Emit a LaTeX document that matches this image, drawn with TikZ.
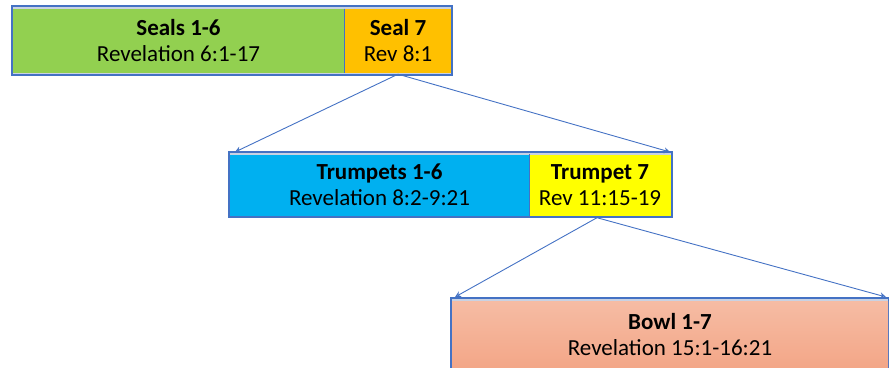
\documentclass[tikz,border=0pt]{standalone}
\usepackage{fontspec}
\setmainfont{Carlito}
\usetikzlibrary{arrows.meta}
\definecolor{edge}{HTML}{4472C4}
\definecolor{strip}{HTML}{C9D2E3}
\definecolor{cgreen}{HTML}{92D050}
\definecolor{corange}{HTML}{FFC000}
\definecolor{cblue}{HTML}{00B0F0}
\definecolor{cyellow}{HTML}{FFFF00}
\definecolor{csalmonA}{HTML}{F6BCA4}
\definecolor{csalmonB}{HTML}{F3A687}
\tikzset{
  frame/.style={draw=edge, line width=1.3pt, fill=strip, rectangle, inner sep=0pt},
  cell/.style={rectangle, inner sep=0pt, align=center, text=black,
    font=\fontsize{23}{26}\selectfont},
  divider/.style={draw=edge, line width=0.8pt},
  link/.style={draw=edge, line width=0.9pt, -{Stealth[length=6pt,width=6pt,open]}},
}
\begin{document}
\begin{tikzpicture}[x=1pt,y=-1pt]
\useasboundingbox (0,0) rectangle (889,367);
% row 1
\node[frame, minimum width=440pt, minimum height=69pt] (row1) at (232,40.5) {};
\node[cell, fill=cgreen, minimum width=331pt, minimum height=64pt] (seals) at (178.5,41) {\textbf{Seals 1-6}\\Revelation 6:1-17};
\node[cell, fill=corange, minimum width=106pt, minimum height=64pt] (seal7) at (398,41) {\textbf{Seal 7}\\Rev 8:1};
\draw[divider] (seals.north east) -- (seals.south east);
% row 2
\node[frame, minimum width=443pt, minimum height=65pt] (row2) at (450.5,184.5) {};
\node[cell, fill=cblue, minimum width=299pt, minimum height=61pt] (trumpets) at (379.5,185) {\textbf{Trumpets 1-6}\\Revelation 8:2-9:21};
\node[cell, fill=cyellow, minimum width=142pt, minimum height=61pt] (trumpet7) at (600,185) {\textbf{Trumpet 7}\\Rev 11:15-19};
\draw[divider] (trumpets.north east) -- (trumpets.south east);
% row 3
\node[frame, minimum width=438pt, minimum height=74pt] (row3) at (670,335) {};
\node[cell, top color=csalmonA, bottom color=csalmonB, minimum width=436pt, minimum height=68pt] (bowls) at (670,335) {\textbf{Bowl 1-7}\\Revelation 15:1-16:21};
% connectors
\coordinate (t1) at (235,152);
\coordinate (t2) at (670,152);
\coordinate (b1) at (455,297);
\coordinate (b2) at (886,297);
\draw[link] ([yshift=-1pt]seal7.south) -- (t1);
\draw[link] ([yshift=-1pt]seal7.south) -- (t2);
\draw[link] ([xshift=-3pt,yshift=-2pt]trumpet7.south) -- (b1);
\draw[link] ([xshift=-3pt,yshift=-2pt]trumpet7.south) -- (b2);
\end{tikzpicture}
\end{document}
